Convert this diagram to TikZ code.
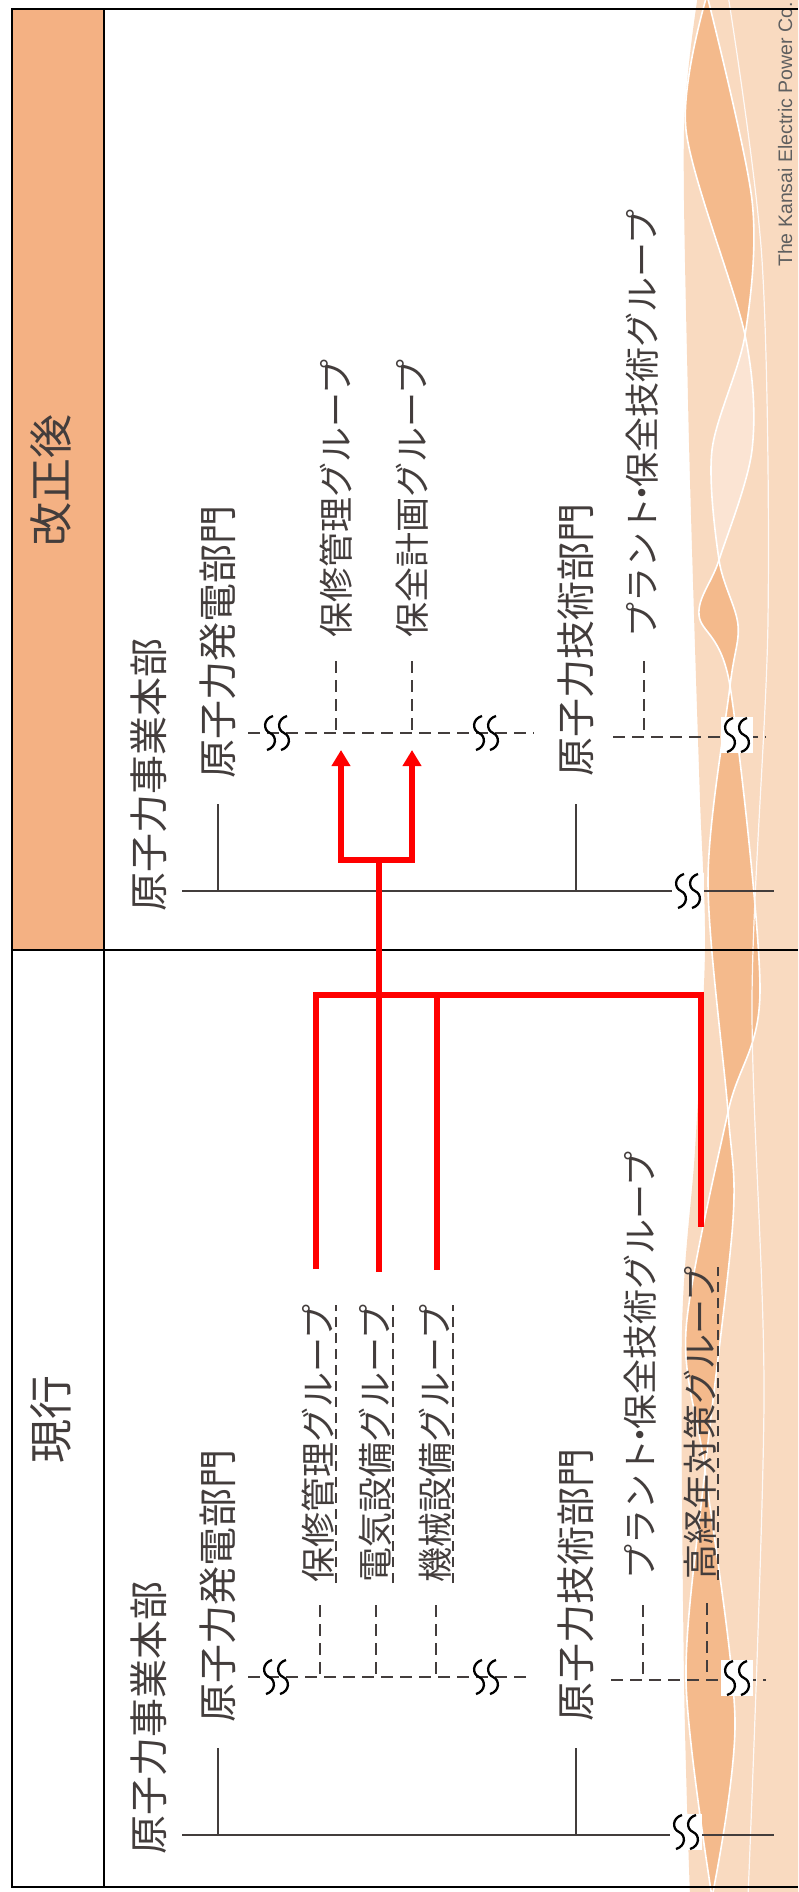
\documentclass[tikz,border=0pt]{standalone}
\usepackage{fontspec}
\setmainfont{Liberation Sans}
\newfontfamily\jpfont{Noto Sans CJK JP}
\usetikzlibrary{arrows.meta}
\definecolor{ink}{HTML}{433D3C}
\definecolor{hdr}{HTML}{F4B183}
\definecolor{peach}{HTML}{F9DAC0}
\definecolor{peachdark}{HTML}{F4BA8C}
\definecolor{peachlight}{HTML}{FBE4D3}
\definecolor{corpgray}{HTML}{5F5F5F}

\begin{document}
\begin{tikzpicture}[x=1pt,y=-1pt,
  lbl/.style={rotate=90, anchor=west, inner sep=0pt, text=ink,
              font=\jpfont\fontsize{39}{39}\selectfont},
  grp/.style={lbl, font=\jpfont\fontsize{35}{35}\selectfont},
  hdrtext/.style={rotate=90, inner sep=0pt, text=ink,
              font=\jpfont\fontsize{44}{44}\selectfont},
  solidline/.style={draw=ink, line width=2pt},
  dashline/.style={draw=ink, line width=2pt, dash pattern=on 12pt off 7pt},
  uline/.style={draw=ink, line width=1.5pt, dash pattern=on 10pt off 6pt},
  framel/.style={draw=black, line width=2.5pt},
  redline/.style={draw=red, line width=5.5pt},
  redtip/.style={{Triangle[width=18pt,length=16pt]}-{Triangle[width=18pt,length=16pt]}},
  wline/.style={draw=white, line width=1.6pt},
  wavestroke/.style={draw=black, line width=2.3pt},
  % two wavy strokes marking an omitted stretch of a line
  brk/.pic={
    \draw[wavestroke] (-4,-17) .. controls (-14,-14) and (-14,-3) .. (-7,0)
          .. controls (0,3) and (0,14) .. (-10,17);
    \draw[wavestroke] (10,-17) .. controls (0,-14) and (0,-3) .. (7,0)
          .. controls (14,3) and (14,14) .. (4,17);
  },
  brkbox/.pic={
    \fill[white] (-16,-18) rectangle (16,18);
    \pic {brk};
  }
]
\useasboundingbox (0,0) rectangle (798,1892);

% ---- decorative band on the right ----
\fill[peach] plot[smooth] coordinates {(698,-5) (684,130) (688,400) (694,615) (700,800)
   (705,950) (695,1150) (682,1330) (684,1680) (690,1897)} -- (798,1897) -- (798,-5) -- cycle;
\fill[peachdark] plot[smooth] coordinates {(707,-5) (752,200) (745,335) (712,450) (719,560)
   (738,625) (730,686) (708,880) (728,1112) (733,1220) (705,1470) (686,1680) (712,1897)}
   -- plot[smooth] coordinates {(712,1897) (735,1720) (705,1470) (686,1330) (728,1112)
   (760,990) (730,686) (699,615) (719,560) (752,450) (745,335) (686,130) (707,-5)} -- cycle;
\begin{scope}
  \clip (600,335) rectangle (798,560);
  \fill[peachlight] plot[smooth] coordinates {(707,-5) (752,200) (745,335) (712,450) (719,560)
   (738,625) (730,686) (708,880)}
   -- plot[smooth] coordinates {(760,990) (730,686) (699,615) (719,560) (752,450) (745,335)
   (686,130) (707,-5)} -- cycle;
\end{scope}
\draw[wline] plot[smooth] coordinates {(707,-5) (752,200) (745,335) (712,450) (719,560)
   (738,625) (730,686) (708,880) (728,1112) (733,1220) (705,1470) (686,1680) (712,1897)};
\draw[wline] plot[smooth] coordinates {(707,-5) (686,130) (745,335) (752,450) (719,560)
   (699,615) (730,686) (760,990) (728,1112) (686,1330) (705,1470) (735,1720) (712,1897)};
\draw[wline, line width=1.2pt, white!85!peach] plot[smooth] coordinates {(728,-5) (762,260)
   (768,620) (752,1000) (764,1400) (748,1897)};

\node[rotate=90, anchor=base west, inner sep=0pt, text=corpgray,
      font=\fontsize{19.5}{19.5}\selectfont] (corp) at (792,267) {The Kansai Electric Power Co.};

% ---- frame ----
\fill[hdr] (12,9) rectangle (104,950);
\draw[framel] (798,9) -- (12,9) -- (12,1887) -- (798,1887);
\draw[framel] (104,9) -- (104,1887);
\draw[framel] (12,950) -- (798,950);

\node[hdrtext] (hAfter) at (51,480) {改正後};
\node[hdrtext] (hNow) at (51,1419) {現行};

% ---- revised organisation ----
\node[lbl] (hqA) at (149,912) {原子力事業本部};
\node[lbl] (genA) at (218,779) {原子力発電部門};
\node[lbl] (tecA) at (576,777) {原子力技術部門};
\node[grp] (gaA) at (336,638) {保修管理グループ};
\node[grp] (gbA) at (412,638) {保全計画グループ};
\node[grp] (gcA) at (642,638) {プラント\kern-.35em・\kern-.35em保全技術グループ};

\coordinate (trunkA) at (182,891);
\coordinate (trunkAend) at (774,891);
\coordinate (busA) at (248,733);
\coordinate (busAend) at (534,733);
\coordinate (busB) at (613,737);
\coordinate (busBend) at (766,737);

\draw[solidline] (trunkA) -- (trunkAend);
\draw[solidline] ([yshift=-25pt]genA.west) -- (genA.west |- trunkA);
\draw[solidline] ([yshift=-27pt]tecA.west) -- (tecA.west |- trunkA);
\draw[dashline] (busA) -- (busAend);
\draw[dashline] (busB) -- (busBend);
\draw[dashline] ([yshift=-23pt]gaA.west) -- (gaA.west |- busA);
\draw[dashline] ([yshift=-23pt]gbA.west) -- (gbA.west |- busA);
\draw[dashline] ([yshift=-23pt,xshift=2pt]gcA.west) -- ([xshift=2pt]gcA.west |- busB);
\pic at (277,733) {brk};
\pic at (486,733) {brk};
\pic at (737,735) {brkbox};
\pic at (688,891) {brkbox};

% ---- current organisation ----
\node[lbl] (hqB) at (149,1855) {原子力事業本部};
\node[lbl] (genB) at (218,1723) {原子力発電部門};
\node[lbl] (tecB) at (576,1722) {原子力技術部門};
\node[grp] (gaB) at (318,1583) {保修管理グループ};
\node[grp] (gbB) at (375,1583) {電気設備グループ};
\node[grp] (gcB) at (435,1583) {機械設備グループ};
\node[grp] (gdB) at (640,1580) {プラント\kern-.35em・\kern-.35em保全技術グループ};
\node[grp] (geB) at (700,1580) {高経年対策グループ};

\coordinate (trunkB) at (182,1835);
\coordinate (trunkBend) at (774,1835);
\coordinate (busC) at (248,1677);
\coordinate (busCend) at (533,1677);
\coordinate (busD) at (611,1680);
\coordinate (busDend) at (766,1680);

\draw[solidline] (trunkB) -- (trunkBend);
\draw[solidline] ([yshift=-25pt]genB.west) -- (genB.west |- trunkB);
\draw[solidline] ([yshift=-26pt]tecB.west) -- (tecB.west |- trunkB);
\draw[dashline] (busC) -- (busCend);
\draw[dashline] (busD) -- (busDend);
\draw[dashline] ([yshift=-22pt,xshift=2pt]gaB.west) -- ([xshift=2pt]gaB.west |- busC);
\draw[dashline] ([yshift=-22pt,xshift=1pt]gbB.west) -- ([xshift=1pt]gbB.west |- busC);
\draw[dashline] ([yshift=-22pt,xshift=1pt]gcB.west) -- ([xshift=1pt]gcB.west |- busC);
\draw[dashline] ([yshift=-25pt,xshift=3pt]gdB.west) -- ([xshift=3pt]gdB.west |- busD);
\draw[dashline] ([yshift=-23pt,xshift=7pt]geB.west) -- ([xshift=7pt]geB.west |- busD);
\foreach \g in {gaB,gbB,gcB,geB}
  \draw[uline] ([xshift=1.5pt]\g.south west) -- ([xshift=1.5pt]\g.south east);
\pic at (276,1677) {brk};
\pic at (486,1677) {brk};
\pic at (737,1678) {brkbox};
\pic at (686,1832) {brkbox};

% ---- reassignment arrows ----
\coordinate (srcA) at (316,1269);
\coordinate (srcB) at (379,1272);
\coordinate (srcC) at (437,1270);
\coordinate (srcD) at (701,1227);
\coordinate (joinLow) at (379,995);
\coordinate (joinHigh) at (379,860);
\coordinate (dstA) at (341,750);
\coordinate (dstB) at (412,750);

\draw[redline] (srcA) -- (srcA |- joinLow) -- (srcD |- joinLow) -- (srcD);
\draw[redline] (srcB) -- (joinHigh);
\draw[redline] (srcC) -- (srcC |- joinLow);
\draw[redline, redtip] (dstA) -- (dstA |- joinHigh) -- (dstB |- joinHigh) -- (dstB);

\end{tikzpicture}
\end{document}
